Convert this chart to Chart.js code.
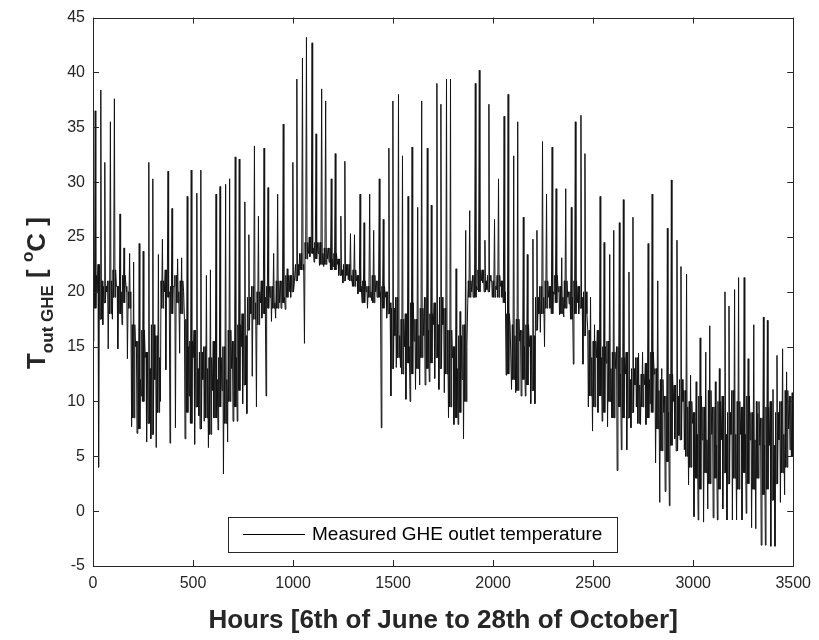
<!DOCTYPE html>
<html><head><meta charset="utf-8">
<script src="https://cdn.jsdelivr.net/npm/chart.js@4.4.1/dist/chart.umd.min.js"></script>
<style>html,body{margin:0;padding:0;background:#fff;}#wrap{width:819px;height:640px;}</style>
</head><body><div id="wrap"><canvas id="c" width="819" height="640"></canvas></div>
<script>
// ---- data ----
const xTicks = [0, 500, 1000, 1500, 2000, 2500, 3000, 3500];
const yTicks = [-5, 0, 5, 10, 15, 20, 25, 30, 35, 40, 45];
const seriesLabel = 'Measured GHE outlet temperature';
const xTitle = 'Hours [6th of June to 28th of October]';

// one entry per day (24 h), °C
// deepest dip of the day
const dayLow = [
15.5,4,17,14.8,17.5,14.8,17,13.9,7.7,7.1,
10.5,6.3,6.6,5.8,10,12.9,6.2,7.6,14.4,6.6,
10.5,6.1,8.7,8.2,5.8,8.5,7.4,3.4,6.3,8.2,
8.2,9.8,8.9,12.3,9.5,17.6,10.5,17.3,17.6,18.5,
18.4,19.5,20.5,22,15.3,23.2,22.7,22.4,22.3,22.7,
22.3,21.5,20.8,21.1,20.5,19.8,19,18.5,19.2,19.5,
7.6,17.6,10.5,13.1,13.1,10.2,10,11.1,11.5,11.5,
11.8,12.1,11.1,10.8,8.5,7.9,7.9,6.6,18.9,19.5,
20.2,20.8,20.2,19.5,20.2,19.5,12.4,11.1,10.8,10.5,
10.5,9.8,9.8,16.3,15,18.5,19.8,17.9,17.7,18.9,
13.4,18,13.4,9.5,7.3,9,8.2,7.7,8.5,3.7,
5.6,5.6,7.6,9.5,7.9,7.9,9.8,4.4,0.8,1.8,
0.5,6.6,6.9,5.6,2.4,-0.5,-0.8,-1,0.2,-0.6,
-0.8,0.2,-0.8,-0.8,-0.8,-0.8,-0.2,-1.5,-1.6,-3.1,
-3.1,-3.2,-3.2,0.8,1.5,5.6
];
// daily spike maximum
const dayHigh = [
36.5,38.4,31.8,35.5,37.6,27.1,24,23.5,22.7,24.4,
23.7,31.8,30.3,23.4,24.8,31,27.6,23,23.1,28.7,
31.1,29,31.1,21.5,22,28.9,29.6,29.8,30.3,32.3,
32.1,28.2,25.2,33.3,26.9,33.1,29.5,23.5,28.9,35.3,
22.1,31.8,39.4,41.3,43.2,42.7,34.4,38.5,37.4,30.3,
32.6,26.9,31.9,25.3,25.2,28.9,26.3,28.9,25.6,30.3,
26.6,33.1,37.4,38,32.4,28.7,33.2,27.7,37.4,33.1,
27.9,39,37.1,39.4,39.4,22.1,18.2,25.6,27.4,39,
40.2,24.7,37.1,26.6,30.3,36,38,32.4,35.5,26.8,
23.4,24.8,25.6,33.7,28.9,33.2,29.4,23.1,29.4,27.7,
35.5,36.1,32.6,19.5,17,28.7,24.5,23.4,25.6,26.3,
28.4,21.8,26.8,14.4,14.5,24.4,28.9,21,13,25.8,
30.2,24.7,22.3,21.6,12.4,11.8,15.8,14.5,16.9,11.8,
13,20,18.7,20.2,21.3,21.3,13.9,17,8.9,17.7,
17.4,11.1,14.2,14.8,12.7,10.8
];
// evening level the line settles at
const dayBase = [
20,21,20,21,20.5,20,20.5,20,15,12,
14,13,12,14,20,20,20.5,20,20,15,
14,13,12,13,11,12,11,12,13,14,
15,16,18,19,19,19.5,19.5,19,19,19.5,
20,20.5,21.5,22.5,23.5,24,23.5,23.5,23,23,
22.5,22,21.5,21.5,21,20.5,20,20,20,20,
19.5,19,16,16,15,15,15.5,16,16,16.5,
17,17,17,16.5,14,13,12,15,20,20.5,
21,21,21,20.5,20.5,20,17,16,15.5,15,
15,16,18,19.5,19.5,20,20,19.5,19.5,19.5,
19,19.5,18,14,14,14,13.5,13,13,12.5,
12.5,12,11.5,11.5,11.5,12,12.5,11,9,9,
10,10.5,10,9.5,8,7,6.5,6.5,7,6,
6.5,7,7,7,7,7,6.5,6.5,6,6,
6,6,6.5,7,7.5,8
];
// upper edge of the dense daily band
const bandTop = [
21.5,22.5,20.5,21,22,20.5,21.5,20,
17,15.5,16.5,14.5,17,16,
21,22,20.5,21.5,21,
17.5,15.5,16.5,14.5,15,14,
15.5,14,15,16.5,15.5,17,18,
19.5,20.5,20,21,20.5,
20.5,21,21,21.5,21.5,22.5,23.5,24.5,25,24.5,24.5,24,24,23.5,23,22.5,22.5,22,21.5,
21,20.5,21.5,21,20.5,20,
18.5,19.5,17.5,18,19,17.5,18.5,19.5,18,19,19.5,18.5,
16.5,15,16,17,
21,21.5,22,22,21.5,21,21.5,21,
18,17,17.5,16.5,17,16,
19.5,20.5,21,20.5,21.5,20.5,21,20,21,20.5,20,
16.5,15.5,16.5,15,15.5,14.5,15,14,
14.5,13,14,12.5,13.5,14.5,13,
12,10.5,12.5,11.5,12,11,10,
9,10.5,9.5,11,9.5,10,
10.5,9,11,10,9.5,10.5,9,10,8.5,9.5,10,9,
10,11,10.5
];
// lower edge of the dense daily band
const bandBot = [
18.5,17.5,19,18,19.5,18,19,18.5,
8.5,7.5,10,8,7,9,
18.5,19.5,18,19,18,
9,8,9.5,7.5,8.5,7,
8.5,9.5,8,10,9.5,11,11.5,
16.5,17.5,17,18,18.5,
18.5,18.5,19,19.5,20,21,22,23,23.5,23,22.5,22.5,22,22,21.5,21,21,20.5,20,
19,19.5,19,19.5,18.5,18,
13,14,12.5,13.5,12.5,13,14,13,13.5,14,13,12.5,
9.5,8.5,9,10,
19.5,19.5,20,20,20,19.5,19.5,19,
12.5,12,11,12,11.5,11,
16.5,18,18.5,18,19,18,18.5,17.5,18,18.5,16,
10.5,9.5,10.5,9,10,8.5,9.5,8.5,
8.5,9,8,9.5,8.5,9,7.5,
5.5,4.5,6,5.5,6.5,5,4,
3,2,3.5,2.5,3,2,
3.5,2.5,3,2,3.5,2.5,2,3,1.5,2,1,2.5,
3.5,4,5
];

// place the daily readings at their hours of the day
const points = [];
for (let d = 0; d < dayHigh.length; d++) {
  const h0 = d * 24;
  if (d % 2 === 0) {
    points.push({x: h0 + 1,  y: dayLow[d]});
    points.push({x: h0 + 4,  y: bandTop[d]});
    points.push({x: h0 + 7,  y: bandBot[d]});
    points.push({x: h0 + 11, y: dayHigh[d]});
    points.push({x: h0 + 14, y: bandBot[d]});
    points.push({x: h0 + 17, y: bandTop[d]});
    points.push({x: h0 + 21, y: dayBase[d]});
  } else {
    points.push({x: h0 + 1,  y: bandTop[d]});
    points.push({x: h0 + 4,  y: dayLow[d]});
    points.push({x: h0 + 8,  y: bandTop[d]});
    points.push({x: h0 + 11, y: bandBot[d]});
    points.push({x: h0 + 15, y: dayHigh[d]});
    points.push({x: h0 + 18, y: bandBot[d]});
    points.push({x: h0 + 21, y: dayBase[d]});
  }
}

const AXC = '#262626';
const FONT = '"Liberation Sans", Arial, Helvetica, sans-serif';

const framePlugin = {
  id: 'frame',
  afterDraw(chart) {
    const {ctx, chartArea: a, scales} = chart;
    ctx.save();
    ctx.strokeStyle = AXC;
    ctx.lineWidth = 1;
    ctx.strokeRect(Math.round(a.left) + 0.5, Math.round(a.top) + 0.5,
                   Math.round(a.right - a.left), Math.round(a.bottom - a.top));
    const tl = 6;
    ctx.beginPath();
    xTicks.forEach(v => {
      const px = Math.round(scales.x.getPixelForValue(v)) + 0.5;
      ctx.moveTo(px, a.bottom); ctx.lineTo(px, a.bottom - tl);
      ctx.moveTo(px, a.top); ctx.lineTo(px, a.top + tl);
    });
    yTicks.forEach(v => {
      const py = Math.round(scales.y.getPixelForValue(v)) + 0.5;
      ctx.moveTo(a.left, py); ctx.lineTo(a.left + tl, py);
      ctx.moveTo(a.right, py); ctx.lineTo(a.right - tl, py);
    });
    ctx.stroke();

    // legend box inside the plot
    const lx = 228.5, ly = 517.5, lw = 389, lh = 35;
    ctx.fillStyle = '#fff';
    ctx.fillRect(lx, ly, lw, lh);
    ctx.strokeRect(lx, ly, lw, lh);
    ctx.beginPath();
    ctx.strokeStyle = '#000';
    ctx.moveTo(243, 534.5); ctx.lineTo(305, 534.5);
    ctx.stroke();
    ctx.fillStyle = '#000';
    ctx.font = '19px ' + FONT;
    ctx.textBaseline = 'middle';
    ctx.textAlign = 'left';
    ctx.fillText(seriesLabel, 312, 535);

    // y-axis title with subscript and superscript
    const parts = [
      {t: 'T', s: 26, dy: 0},
      {t: 'out GHE', s: 17, dy: 8},
      {t: ' [ ', s: 26, dy: 0},
      {t: 'o', s: 17, dy: -12},
      {t: 'C ]', s: 26, dy: 0}
    ];
    let total = 0;
    parts.forEach(p => { ctx.font = 'bold ' + p.s + 'px ' + FONT; p.w = ctx.measureText(p.t).width; total += p.w; });
    ctx.translate(45, 293);
    ctx.rotate(-Math.PI / 2);
    ctx.fillStyle = AXC;
    ctx.textBaseline = 'alphabetic';
    let x = -total / 2;
    parts.forEach(p => { ctx.font = 'bold ' + p.s + 'px ' + FONT; ctx.fillText(p.t, x, p.dy); x += p.w; });
    ctx.restore();
  }
};

new Chart(document.getElementById('c'), {
  type: 'line',
  data: {
    datasets: [{
      label: seriesLabel,
      data: points,
      borderColor: '#141414',
      borderWidth: 1,
      pointRadius: 0,
      tension: 0,
      fill: false
    }]
  },
  options: {
    responsive: false,
    animation: false,
    events: [],
    layout: {padding: {left: 0, right: 24, top: 15, bottom: 0}},
    plugins: {legend: {display: false}, tooltip: {enabled: false}},
    scales: {
      x: {
        type: 'linear', min: 0, max: 3500,
        afterBuildTicks: s => { s.ticks = xTicks.map(v => ({value: v})); },
        afterFit: s => { s.height = 74; },
        grid: {display: false, drawTicks: false},
        border: {display: false},
        ticks: {font: {family: FONT, size: 16}, color: AXC, padding: 8, maxRotation: 0, autoSkip: false,
                callback: v => String(v)},
        title: {display: true, text: xTitle, color: AXC,
                font: {family: FONT, size: 26, weight: 'bold'}, padding: {top: 0, bottom: 4}}
      },
      y: {
        type: 'linear', min: -5, max: 45,
        afterBuildTicks: s => { s.ticks = yTicks.map(v => ({value: v})); },
        afterFit: s => { s.width = 93; },
        grid: {display: false, drawTicks: false},
        border: {display: false},
        ticks: {font: {family: FONT, size: 16}, color: AXC, padding: 8, autoSkip: false,
                callback: v => String(v)}
      }
    }
  },
  plugins: [framePlugin]
});
</script></body></html>
